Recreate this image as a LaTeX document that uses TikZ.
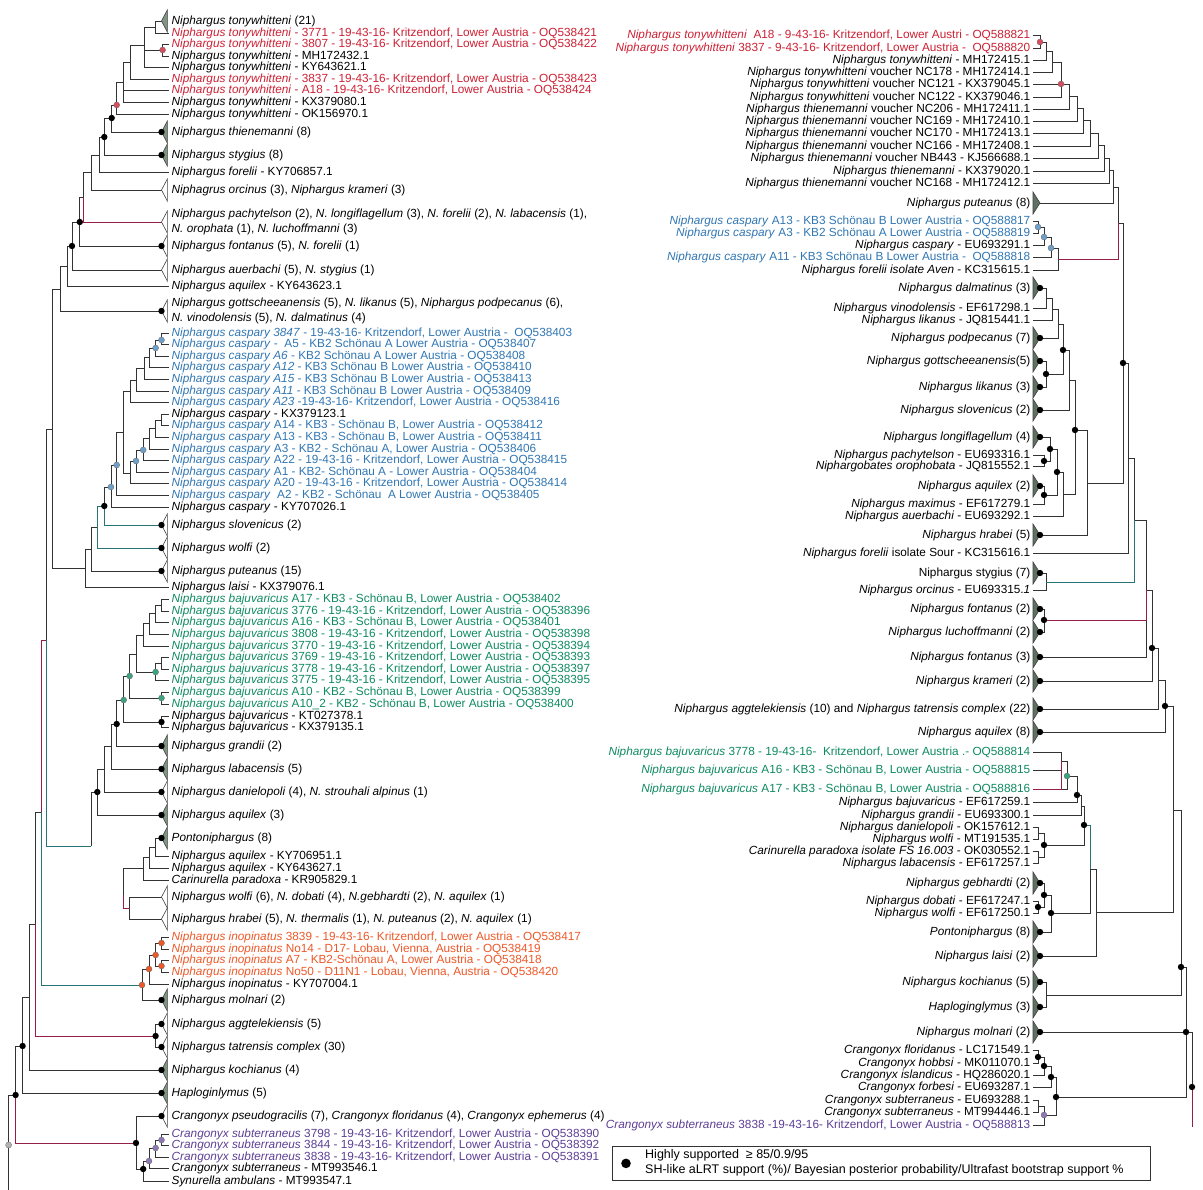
\documentclass[tikz,border=0pt]{standalone}
\usepackage{fontspec}
\setmainfont{Liberation Sans}
\definecolor{tred}{RGB}{204,32,52}
\definecolor{tblue}{RGB}{48,118,178}
\definecolor{tgreen}{RGB}{14,138,96}
\definecolor{torange}{RGB}{236,88,40}
\definecolor{tpurple}{RGB}{92,62,148}
\definecolor{trifill}{RGB}{128,150,132}
\definecolor{brred}{RGB}{150,30,70}
\definecolor{brteal}{RGB}{40,115,115}
\tikzset{
  br/.style={draw=black!80, line width=0.8pt},
  brr/.style={br, draw=brred},
  brt/.style={br, draw=brteal},
  lab/.style={anchor=west, inner sep=2.5pt},
  labr/.style={anchor=east, inner sep=2.5pt},
  trig/.style={draw=black!75, line width=0.6pt, fill=trifill},
  triw/.style={draw=black!75, line width=0.6pt, fill=white},
  trid/.style={draw=black!75, line width=0.6pt, fill=trifill!75!black},
  cdot/.style={draw=black!60, line width=0.3pt},
}
\begin{document}
\begin{tikzpicture}[x=1pt, y=-1pt, font=\fontsize{11.8pt}{13pt}\selectfont]
\useasboundingbox (0,0) rectangle (1203,1190);

% ---------- left tree, leaves
\node[lab] (lton) at (169,21) {\textit{Niphargus tonywhitteni} (21)};
\node[lab, text=tred] (l3771) at (169,33) {\textit{Niphargus tonywhitteni} - 3771 - 19-43-16- Kritzendorf, Lower Austria - OQ538421};
\node[lab, text=tred] (l3807) at (169,44) {\textit{Niphargus tonywhitteni} - 3807 - 19-43-16- Kritzendorf, Lower Austria - OQ538422};
\node[lab] (lMH) at (169,56) {\textit{Niphargus tonywhitteni} - MH172432.1};
\node[lab] (lKY1) at (169,67) {\textit{Niphargus tonywhitteni} - KY643621.1};
\node[lab, text=tred] (l3837) at (169,79) {\textit{Niphargus tonywhitteni} - 3837 - 19-43-16- Kritzendorf, Lower Austria - OQ538423};
\node[lab, text=tred] (lA18) at (169,90) {\textit{Niphargus tonywhitteni} - A18 - 19-43-16- Kritzendorf, Lower Austria - OQ538424};
\node[lab] (lKX1) at (169,102) {\textit{Niphargus tonywhitteni} - KX379080.1};
\node[lab] (lOK) at (169,114) {\textit{Niphargus tonywhitteni} - OK156970.1};
\node[lab] (lthi) at (169,132) {\textit{Niphargus thienemanni} (8)};
\node[lab] (lsty) at (169,155) {\textit{Niphargus stygius} (8)};
\node[lab] (lfor) at (169,172) {\textit{Niphargus forelii} - KY706857.1};
\node[lab] (lorc) at (169,190) {\textit{Niphagrus orcinus} (3), \textit{Niphargus krameri} (3)};
\node[lab, align=left] (lpac) at (169,222) {\textit{Niphargus pachytelson} (2), \textit{N. longiflagellum} (3), \textit{N. forelii} (2), \textit{N. labacensis} (1),\\[2pt] \textit{N. orophata} (1), \textit{N. luchoffmanni} (3)};
\node[lab] (lfon) at (169,246) {\textit{Niphargus fontanus} (5), \textit{N. forelii} (1)};
\node[lab] (laue) at (169,270) {\textit{Niphargus auerbachi} (5), \textit{N. stygius} (1)};
\node[lab] (laqu) at (169,286) {\textit{Niphargus aquilex} - KY643623.1};
\node[lab, align=left] (lgot) at (169,311) {\textit{Niphargus gottscheeanensis} (5), \textit{N. likanus} (5), \textit{Niphargus podpecanus} (6),\\[2pt] \textit{N. vinodolensis} (5), \textit{N. dalmatinus} (4)};
% caspary
\node[lab, text=tblue] (lc3847) at (169,333) {\textit{Niphargus caspary 3847} - 19-43-16- Kritzendorf, Lower Austria - \ OQ538403};
\node[lab, text=tblue] (lcA5) at (169,344) {\textit{Niphargus caspary} - \ A5 - KB2 Schönau A Lower Austria - OQ538407};
\node[lab, text=tblue] (lcA6) at (169,356) {\textit{Niphargus caspary A6} - KB2 Schönau A Lower Austria - OQ538408};
\node[lab, text=tblue] (lcA12) at (169,367) {\textit{Niphargus caspary A12} - KB3 Schönau B Lower Austria - OQ538410};
\node[lab, text=tblue] (lcA15) at (169,379) {\textit{Niphargus caspary A15} - KB3 Schönau B Lower Austria - OQ538413};
\node[lab, text=tblue] (lcA11) at (169,391) {\textit{Niphargus caspary A11} - KB3 Schönau B Lower Austria - OQ538409};
\node[lab, text=tblue] (lcA23) at (169,402) {\textit{Niphargus caspary A23} -19-43-16- Kritzendorf, Lower Austria - OQ538416};
\node[lab] (lcKX) at (169,414) {\textit{Niphargus caspary} - KX379123.1};
\node[lab, text=tblue] (lcA14) at (169,425) {\textit{Niphargus caspary} A14 - KB3 - Schönau B, Lower Austria - OQ538412};
\node[lab, text=tblue] (lcA13) at (169,437) {\textit{Niphargus caspary} A13 - KB3 - Schönau B, Lower Austria - OQ538411};
\node[lab, text=tblue] (lcA3) at (169,449) {\textit{Niphargus caspary} A3 - KB2 - Schönau A, Lower Austria - OQ538406};
\node[lab, text=tblue] (lcA22) at (169,460) {\textit{Niphargus caspary} A22 - 19-43-16 - Kritzendorf, Lower Austria - OQ538415};
\node[lab, text=tblue] (lcA1) at (169,472) {\textit{Niphargus caspary} A1 - KB2- Schönau A - Lower Austria - OQ538404};
\node[lab, text=tblue] (lcA20) at (169,483) {\textit{Niphargus caspary} A20 - 19-43-16 - Kritzendorf, Lower Austria - OQ538414};
\node[lab, text=tblue] (lcA2) at (169,495) {\textit{Niphargus caspary} \ A2 - KB2 - Schönau \ A Lower Austria - OQ538405};
\node[lab] (lcKY) at (169,507) {\textit{Niphargus caspary} - KY707026.1};
\node[lab] (lslo) at (169,525) {\textit{Niphargus slovenicus} (2)};
\node[lab] (lwol) at (169,548) {\textit{Niphargus wolfi} (2)};
\node[lab] (lput) at (169,571) {\textit{Niphargus puteanus} (15)};
\node[lab] (llai) at (169,587) {\textit{Niphargus laisi} - KX379076.1};
% bajuvaricus
\node[lab, text=tgreen] (lbA17) at (169,599) {\textit{Niphargus bajuvaricus} A17 - KB3 - Schönau B, Lower Austria - OQ538402};
\node[lab, text=tgreen] (lb3776) at (169,611) {\textit{Niphargus bajuvaricus} 3776 - 19-43-16 - Kritzendorf, Lower Austria - OQ538396};
\node[lab, text=tgreen] (lbA16) at (169,622) {\textit{Niphargus bajuvaricus} A16 - KB3 - Schönau B, Lower Austria - OQ538401};
\node[lab, text=tgreen] (lb3808) at (169,634) {\textit{Niphargus bajuvaricus} 3808 - 19-43-16 - Kritzendorf, Lower Austria - OQ538398};
\node[lab, text=tgreen] (lb3770) at (169,646) {\textit{Niphargus bajuvaricus} 3770 - 19-43-16 - Kritzendorf, Lower Austria - OQ538394};
\node[lab, text=tgreen] (lb3769) at (169,657) {\textit{Niphargus bajuvaricus} 3769 - 19-43-16 - Kritzendorf, Lower Austria - OQ538393};
\node[lab, text=tgreen] (lb3778) at (169,669) {\textit{Niphargus bajuvaricus} 3778 - 19-43-16 - Kritzendorf, Lower Austria - OQ538397};
\node[lab, text=tgreen] (lb3775) at (169,680) {\textit{Niphargus bajuvaricus} 3775 - 19-43-16 - Kritzendorf, Lower Austria - OQ538395};
\node[lab, text=tgreen] (lbA10) at (169,692) {\textit{Niphargus bajuvaricus} A10 - KB2 - Schönau B, Lower Austria - OQ538399};
\node[lab, text=tgreen] (lbA102) at (169,704) {\textit{Niphargus bajuvaricus} A10\_2 - KB2 - Schönau B, Lower Austria - OQ538400};
\node[lab] (lbKT) at (169,716) {\textit{Niphargus bajuvaricus} - KT027378.1};
\node[lab] (lbKX) at (169,727) {\textit{Niphargus bajuvaricus} - KX379135.1};
\node[lab] (lgra) at (169,746) {\textit{Niphargus grandii} (2)};
\node[lab] (llab) at (169,769) {\textit{Niphargus labacensis} (5)};
\node[lab] (ldan) at (169,792) {\textit{Niphargus danielopoli} (4), \textit{N. strouhali alpinus} (1)};
\node[lab] (laq3) at (169,815) {\textit{Niphargus aquilex} (3)};
\node[lab] (lpon) at (169,838) {\textit{Pontoniphargus} (8)};
\node[lab] (laqK1) at (169,856) {\textit{Niphargus aquilex} - KY706951.1};
\node[lab] (laqK2) at (169,868) {\textit{Niphargus aquilex} - KY643627.1};
\node[lab] (lcar) at (169,880) {\textit{Carinurella paradoxa} - KR905829.1};
\node[lab] (lwo6) at (169,897) {\textit{Niphargus wolfi} (6), \textit{N. dobati} (4), \textit{N.gebhardti} (2), \textit{N. aquilex} (1)};
\node[lab] (lhra) at (169,919) {\textit{Niphargus hrabei} (5), \textit{N. thermalis} (1), \textit{N. puteanus} (2), \textit{N. aquilex} (1)};
% inopinatus
\node[lab, text=torange] (li3839) at (169,937) {\textit{Niphargus inopinatus} 3839 - 19-43-16- Kritzendorf, Lower Austria - OQ538417};
\node[lab, text=torange] (liN14) at (169,949) {\textit{Niphargus inopinatus} No14 - D17- Lobau, Vienna, Austria - OQ538419};
\node[lab, text=torange] (liA7) at (169,960) {\textit{Niphargus inopinatus} A7 - KB2-Schönau A, Lower Austria - OQ538418};
\node[lab, text=torange] (liN50) at (169,972) {\textit{Niphargus inopinatus} No50 - D11N1 - Lobau, Vienna, Austria - OQ538420};
\node[lab] (liKY) at (169,984) {\textit{Niphargus inopinatus} - KY707004.1};
\node[lab] (lmol) at (169,1000) {\textit{Niphargus molnari} (2)};
\node[lab] (lagg) at (169,1024) {\textit{Niphargus aggtelekiensis} (5)};
\node[lab] (ltat) at (169,1047) {\textit{Niphargus tatrensis complex} (30)};
\node[lab] (lkoc) at (169,1070) {\textit{Niphargus kochianus} (4)};
\node[lab] (lhap) at (169,1093) {\textit{Haploginlymus} (5)};
\node[lab] (lcps) at (169,1116) {\textit{Crangonyx pseudogracilis} (7), \textit{Crangonyx floridanus} (4), \textit{Crangonyx ephemerus} (4)};
\node[lab, text=tpurple] (ls3798) at (169,1134) {\textit{Crangonyx subterraneus} 3798 - 19-43-16- Kritzendorf, Lower Austria - OQ538390};
\node[lab, text=tpurple] (ls3844) at (169,1145) {\textit{Crangonyx subterraneus} 3844 - 19-43-16- Kritzendorf, Lower Austria - OQ538392};
\node[lab, text=tpurple] (ls3838) at (169,1157) {\textit{Crangonyx subterraneus} 3838 - 19-43-16- Kritzendorf, Lower Austria - OQ538391};
\node[lab] (lsMT) at (169,1168) {\textit{Crangonyx subterraneus} - MT993546.1};
\node[lab] (lsyn) at (169,1181) {\textit{Synurella ambulans} - MT993547.1};

% left tree, inner nodes
\foreach \n/\x/\y in {ta/155.6/27, tb/162.6/50, tc/144/45, td/130/62, te/123.7/82, tg/116.7/105,
    th/111.7/118, ti/104.3/137, tj/99.2/155, tk/91.4/172, tl/83.7/197, tm/79.8/222, tn/72/246,
    to/67/266, tp/60.3/289, tq/52.5/429, tr/46.7/640,
    ca/161.5/340, cb/155.6/348, cc/149.8/357, cd/144/368, ce/136/380, cf/130/391, cg/161.5/420,
    ch/155.6/428, ci/149.8/438, cj/143.2/450, ck/136/461, cl/130/473, cm/123.7/432, cn/116.7/465,
    co/110.9/487, cp/104.3/506, cq/97.3/527, cr/91.4/549, cs/85.6/568,
    ba/161.5/605, bb/155.6/613, bc/149.8/623, bd/143.2/635, be/161.5/663, bf/155.6/672, bg/136/654,
    bh/161.5/698, bi/129.6/676, bj/161.5/722, bk/123.7/700, bl/116.7/724, bm/110.9/746, bn/104.3/769,
    bo/97.3/792, pa/155.6/847, pb/149.8/857, pc/143.2/868, pd/129.6/908, pe/123.7/895, ds/91.4/846,
    ia/161.5/943, ib/161.5/966, ic/155.6/955, id/149/969, ie/142/985, ts/40.9/812,
    ag/155.6/1036, tt/35/924, tu/29.2/997, tv/22.6/1046,
    sa/161.5/1140, sb/155.6/1148, sc/149/1161, sd/143.2/1169, se/136/1143,
    tw/15.6/1095, root/8.6/1145, rootend/8.6/1190}
  \coordinate (\n) at (\x,\y);
\foreach \n/\y in {lton/21, lthi/132, lsty/155, lorc/190, lpac/222, lfon/246, laue/270, lgot/311,
    lslo/525, lwol/548, lput/571, lgra/746, llab/769, ldan/792, laq3/815, lpon/838, lwo6/897,
    lhra/919, lmol/1000, lagg/1024, ltat/1047, lkoc/1070, lhap/1093, lcps/1116}
  \coordinate (\n-t) at (161.5,\y);

% left tree, branches
\foreach \pn/\cn in {ta/lton-t, ta/l3771, tb/l3807, tb/lMH, tc/ta, tc/tb, tc/lKY1, td/tc, td/l3837,
    te/td, te/lA18, te/lKX1, tg/te, tg/lOK, th/tg, th/lthi-t, ti/th, ti/lsty-t, tj/ti, tj/lfor,
    tk/tj, tk/lorc-t, tl/tk, tm/tl, tm/lfon-t, tn/tm, tn/laue-t, to/tn, to/laqu, tp/to, tp/lgot-t,
    tq/tp, tq/cs, tr/tq,
    ca/lc3847, ca/lcA5, cb/ca, cb/lcA6, cc/cb, cc/lcA12, cd/cc, cd/lcA15, ce/cd, ce/lcA11,
    cf/ce, cf/lcA23, cg/lcKX, cg/lcA14, ch/cg, ch/lcA13, ci/ch, ci/lcA3, cj/ci, cj/lcA22,
    ck/cj, ck/lcA1, cl/ck, cl/lcA20, cm/cf, cm/cl, cn/cm, cn/lcA2, co/cn, co/lcKY, cp/co,
    cr/cq, cr/lput-t, cs/cr, cs/llai,
    ba/lbA17, ba/lb3776, bb/ba, bb/lbA16, bc/bb, bc/lb3808, bd/bc, bd/lb3770, be/lb3769, be/lb3778,
    bf/be, bf/lb3775, bg/bd, bg/bf, bh/lbA10, bh/lbA102, bi/bg, bi/bh, bj/lbKT, bj/lbKX,
    bk/bi, bk/bj, bl/bk, bl/lgra-t, bm/bl, bm/llab-t, bn/bm, bn/ldan-t, bo/bn, bo/laq3-t,
    pa/lpon-t, pa/laqK1, pb/pa, pb/laqK2, pc/pb, pc/lcar, pd/lwo6-t, pd/lhra-t, pe/pc, pe/pd, ds/bo,
    ia/li3839, ia/liN14, ib/liA7, ib/liN50, ic/ia, ic/ib, id/ic, id/liKY, ie/id, ie/lmol-t,
    ag/lagg-t, ag/ltat-t, tt/ts, tu/tt, tu/lkoc-t, tv/tu, tv/lhap-t,
    sa/ls3798, sa/ls3844, sb/sa, sb/ls3838, sc/sb, sc/lsMT, sd/sc, sd/lsyn, se/lcps-t, se/sd,
    tw/tv, root/tw, root/rootend}
  \draw[br] (\pn) |- (\cn);
\foreach \pn/\cn in {tl/lpac-t, tt/ag, tw/se, pe/pd, ts/tr}
  \draw[brr] (\pn) |- (\cn);
\foreach \pn/\cn in {tr/ds, ts/ie, cp/lslo-t, cq/cp, cq/lwol-t}
  \draw[brt] (\pn) |- (\cn);

% left tree, collapsed clades
\foreach \n in {lton, lthi, lsty, lgra, llab, laq3, lpon, lmol, lkoc, lhap}
  \draw[trig] (\n-t) -- ++(5.8,-11) -- ++(0,22) -- cycle;
\foreach \n in {lorc, lpac, lfon, laue, lgot, lslo, lwol, lput, ldan, lwo6, lhra, lagg, ltat, lcps}
  \draw[triw] (\n-t) -- ++(5.8,-11) -- ++(0,22) -- cycle;

% ---------- right tree, leaves
\node[labr, text=tred] (rA18) at (1033,35) {\textit{Niphargus tonywhitteni} \ A18 - 9-43-16- Kritzendorf, Lower Austri - OQ588821};
\node[labr, text=tred] (r3837) at (1033,48) {\textit{Niphargus tonywhitteni} 3837 - 9-43-16- Kritzendorf, Lower Austria - \ OQ588820};
\node[labr] (rMH) at (1033,60) {\textit{Niphargus tonywhitteni} - MH172415.1};
\node[labr] (rN178) at (1033,72) {\textit{Niphargus tonywhitteni} voucher NC178 - MH172414.1};
\node[labr] (rN121) at (1033,84) {\textit{Niphargus tonywhitteni} voucher NC121 - KX379045.1};
\node[labr] (rN122) at (1033,97) {\textit{Niphargus tonywhitteni} voucher NC122 - KX379046.1};
\node[labr] (rN206) at (1033,109) {\textit{Niphargus thienemanni} voucher NC206 - MH172411.1};
\node[labr] (rN169) at (1033,121) {\textit{Niphargus thienemanni} voucher NC169 - MH172410.1};
\node[labr] (rN170) at (1033,133) {\textit{Niphargus thienemanni} voucher NC170 - MH172413.1};
\node[labr] (rN166) at (1033,146) {\textit{Niphargus thienemanni} voucher NC166 - MH172408.1};
\node[labr] (rNB443) at (1033,158) {\textit{Niphargus thienemanni} voucher NB443 - KJ566688.1};
\node[labr] (rKX020) at (1033,171) {\textit{Niphargus thienemanni} - KX379020.1};
\node[labr] (rN168) at (1033,183) {\textit{Niphargus thienemanni} voucher NC168 - MH172412.1};
\node[labr] (rput) at (1033,203) {\textit{Niphargus puteanus} (8)};
\node[labr, text=tblue] (rcA13) at (1033,221) {\textit{Niphargus caspary} A13 - KB3 Schönau B Lower Austria - OQ588817};
\node[labr, text=tblue] (rcA3) at (1033,233) {\textit{Niphargus caspary} A3 - KB2 Schönau A Lower Austria - OQ588819};
\node[labr] (rcEU) at (1033,245) {\textit{Niphargus caspary} - EU693291.1};
\node[labr, text=tblue] (rcA11) at (1033,257) {\textit{Niphargus caspary} A11 - KB3 Schönau B Lower Austria - \ OQ588818};
\node[labr] (rAven) at (1033,270) {\textit{Niphargus forelii isolate Aven} - KC315615.1};
\node[labr] (rdal) at (1033,288) {\textit{Niphargus dalmatinus} (3)};
\node[labr] (rvin) at (1033,308) {\textit{Niphargus vinodolensis} - EF617298.1};
\node[labr] (rlik) at (1033,320) {\textit{Niphargus likanus} - JQ815441.1};
\node[labr] (rpod) at (1033,338) {\textit{Niphargus podpecanus} (7)};
\node[labr] (rgot) at (1033,361) {\textit{Niphargus gottscheeanensis}(5)};
\node[labr] (rli3) at (1033,387) {\textit{Niphargus likanus} (3)};
\node[labr] (rslo) at (1033,410) {\textit{Niphargus slovenicus} (2)};
\node[labr] (rlon) at (1033,437) {\textit{Niphargus longiflagellum} (4)};
\node[labr] (rpac) at (1033,455) {\textit{Niphargus pachytelson} - EU693316.1};
\node[labr] (rorp) at (1033,466) {\textit{Niphargobates orophobata} - JQ815552.1};
\node[labr] (raq2) at (1033,486) {\textit{Niphargus aquilex} (2)};
\node[labr] (rmax) at (1033,504) {\textit{Niphargus maximus} - EF617279.1};
\node[labr] (raue) at (1033,516) {\textit{Niphargus auerbachi} - EU693292.1};
\node[labr] (rhra) at (1033,535) {\textit{Niphargus hrabei} (5)};
\node[labr] (rSour) at (1033,553) {\textit{Niphargus forelii} isolate Sour - KC315616.1};
\node[labr] (rsty) at (1033,573) {Niphargus stygius (7)};
\node[labr] (rorc) at (1033,590) {\textit{Niphargus orcinus} - EU693315.\textit{1}};
\node[labr] (rfo2) at (1033,609) {\textit{Niphargus fontanus} (2)};
\node[labr] (rluc) at (1033,632) {\textit{Niphargus luchoffmanni} (2)};
\node[labr] (rfo3) at (1033,657) {\textit{Niphargus fontanus} (3)};
\node[labr] (rkra) at (1033,681) {\textit{Niphargus krameri} (2)};
\node[labr] (ragg) at (1033,709) {\textit{Niphargus aggtelekiensis} (10) and \textit{Niphargus tatrensis complex} (22)};
\node[labr] (raq8) at (1033,732) {\textit{Niphargus aquilex} (8)};
\node[labr, text=tgreen] (rb3778) at (1033,752) {\textit{Niphargus bajuvaricus} 3778 - 19-43-16- \ Kritzendorf, Lower Austria .- OQ588814};
\node[labr, text=tgreen] (rbA16) at (1033,770) {\textit{Niphargus bajuvaricus} A16 - KB3 - Schönau B, Lower Austria - OQ588815};
\node[labr, text=tgreen] (rbA17) at (1033,789) {\textit{Niphargus bajuvaricus} A17 - KB3 - Schönau B, Lower Austria - OQ588816};
\node[labr] (rbEF) at (1033,802) {\textit{Niphargus bajuvaricus} - EF617259.1};
\node[labr] (rgra) at (1033,815) {\textit{Niphargus grandii} - EU693300.1};
\node[labr] (rdan) at (1033,827) {\textit{Niphargus danielopoli} - OK157612.1};
\node[labr] (rwoM) at (1033,839) {\textit{Niphargus wolfi} - MT191535.1};
\node[labr] (rcar) at (1033,851) {\textit{Carinurella paradoxa isolate FS 16.003} - OK030552.1};
\node[labr] (rlab) at (1033,863) {\textit{Niphargus labacensis} - EF617257.1};
\node[labr] (rgeb) at (1033,883) {\textit{Niphargus gebhardti} (2)};
\node[labr] (rdob) at (1033,901) {\textit{Niphargus dobati} - EF617247.1};
\node[labr] (rwoE) at (1033,913) {\textit{Niphargus wolfi} - EF617250.1};
\node[labr] (rpon) at (1033,932) {\textit{Pontoniphargus} (8)};
\node[labr] (rlai) at (1033,956) {\textit{Niphargus laisi} (2)};
\node[labr] (rkoc) at (1033,982) {\textit{Niphargus kochianus} (5)};
\node[labr] (rhap) at (1033,1007) {\textit{Haploginglymus} (3)};
\node[labr] (rmol) at (1033,1032) {\textit{Niphargus molnari} (2)};
\node[labr] (rcfl) at (1033,1050) {\textit{Crangonyx floridanus} - LC171549.1};
\node[labr] (rcho) at (1033,1063) {\textit{Crangonyx hobbsi} - MK011070.1};
\node[labr] (rcis) at (1033,1075) {\textit{Crangonyx islandicus} - HQ286020.1};
\node[labr] (rcfo) at (1033,1087) {\textit{Crangonyx forbesi} - EU693287.1};
\node[labr] (rcsE) at (1033,1100) {\textit{Crangonyx subterraneus} - EU693288.1};
\node[labr] (rcsM) at (1033,1112) {\textit{Crangonyx subterraneus} - MT994446.1};
\node[labr, text=tpurple] (rcs38) at (1033,1125) {\textit{Crangonyx subterraneus} 3838 -19-43-16- Kritzendorf, Lower Austria - OQ588813};

% right tree, inner nodes
\foreach \n/\x/\y in {qa/1040/42, qb/1046/51, qc/1052/62, qd/1061/84, qe/1069/96, qf/1077/108,
    qg/1083/120, qh/1090/133, qi/1098/145, qj/1104/158, qk/1109/170, ql/1113/187,
    qm/1038/227, qn/1044/237, qo/1051/248, qp/1058/259, qq/1118/223,
    qr/1046/298, qs/1052/309, qt/1058/324, qu/1046/374, qv/1063/350, qw/1069/380,
    qx/1044/461, qy/1050/449, qz/1044/495, qA/1057/472, qB/1063/494, qC/1075/430, qD/1087/483,
    qE/1123/363, qF/1128/458, qG/1046/582, qH/1134/520, qI/1044/620, qJ/1146/590, qK/1152/648,
    qL/1158/680, qM/1165/706, qN/1061/761, qO/1067/776, qP/1077/795, qQ/1081/806,
    qR/1038/833, qS/1038/857, qT/1044/845, qU/1084/825, qV/1038/907, qW/1044/895, qX/1051/913,
    qY/1090/869, qZ/1096/912, pA/1173/810, pB/1046/995, pC/1181/967,
    pD/1038/1057, pE/1044/1066, pF/1051/1077, pG/1038/1106, pH/1044/1115, pI/1056/1097,
    pJ/1186/1032, rroot/1192/1087, rrootend/1192/1127}
  \coordinate (\n) at (\x,\y);
\foreach \n/\y in {rput/203, rdal/288, rpod/338, rgot/361, rli3/387, rslo/410, rlon/437, raq2/486,
    rhra/535, rsty/573, rfo2/609, rluc/632, rfo3/657, rkra/681, ragg/709, raq8/732, rgeb/883,
    rpon/932, rlai/956, rkoc/982, rhap/1007, rmol/1032}
  \coordinate (\n-t) at (1040,\y);

% right tree, branches
\foreach \pn/\cn in {qa/rA18, qa/r3837, qb/qa, qb/rMH, qc/qb, qc/rN178, qd/qc, qd/rN121, qd/rN122,
    qe/qd, qe/rN206, qf/qe, qf/rN169, qg/qf, qg/rN170, qh/qg, qh/rN166, qi/qh, qi/rNB443,
    qj/qi, qj/rKX020, qk/qj, qk/rN168, ql/qk, ql/rput-t,
    qm/rcA13, qm/rcA3, qn/qm, qn/rcEU, qo/qn, qo/rcA11, qp/qo, qp/rAven, qq/ql,
    qr/rdal-t, qr/rvin, qs/qr, qs/rlik, qt/qs, qt/rpod-t, qu/rgot-t, qu/rli3-t, qv/qt, qv/qu,
    qw/qv, qw/rslo-t, qx/rpac, qx/rorp, qy/rlon-t, qy/qx, qz/raq2-t, qz/rmax, qA/qy, qA/qz,
    qB/qA, qB/raue, qC/qw, qC/qB, qD/qC, qD/rhra-t, qE/qq, qE/qD, qF/qE, qF/rSour,
    qG/rsty-t, qG/rorc, qH/qF, qI/rfo2-t, qI/rluc-t, qJ/qH, qJ/rfo3-t,
    qK/qJ, qK/rkra-t, qL/qK, qL/ragg-t, qM/qL, qM/raq8-t,
    qN/rb3778, qN/rbA16, qO/qN, qO/rbA17, qP/qO, qP/rbEF, qQ/qP, qQ/rgra,
    qR/rdan, qR/rwoM, qS/rcar, qS/rlab, qT/qR, qT/qS, qU/qQ, qU/qT,
    qV/rdob, qV/rwoE, qW/rgeb-t, qW/qV, qX/qW, qX/rpon-t, qY/qU, qY/qX, qZ/qY, qZ/rlai-t,
    pA/qM, pA/qZ, pB/rkoc-t, pB/rhap-t, pC/pA, pC/pB,
    pD/rcfl, pD/rcho, pE/pD, pE/rcis, pF/pE, pF/rcfo, pG/rcsE, pG/rcsM, pH/pG, pH/rcs38,
    pI/pF, pI/pH, pJ/pC, pJ/rmol-t, pJ/pI, rroot/pJ}
  \draw[br] (\pn) |- (\cn);
\foreach \pn/\cn in {qq/qp, qJ/qI, rroot/rrootend, qN/rbA17}
  \draw[brr] (\pn) |- (\cn);
\foreach \pn/\cn in {qH/qG, qY/qU}
  \draw[brt] (\pn) |- (\cn);

% right tree, collapsed clades
\draw[trid] (rput-t) -- ++(-7,-11) -- ++(0,22) -- cycle;
\foreach \n in {rdal, rpod, rgot, rli3, rslo, rlon, raq2, rhra, rsty, rfo2, rluc, rfo3, rkra,
    ragg, raq8, rgeb, rpon, rlai, rkoc, rhap, rmol}
  \draw[trid] (\n-t) -- ++(-7,-11) -- ++(0,22) -- cycle;

% support dots
\foreach \n in {th, ti, tm, tn, cp, bj, bl, bo, sd, se, tw, tv, ag,
    lthi-t, lsty-t, lfon-t, lgot-t, lslo-t, lwol-t, lput-t, lgra-t, llab-t, ldan-t, laq3-t,
    lpon-t, lmol-t, lagg-t, ltat-t, lkoc-t, lhap-t, lcps-t,
    qu, qv, qx, qy, qz, qA, qC, qE, qI, qK, qM, qP, qT, qU, qV, qW, qX, pC, pD, pE, pF, pI, pJ, rroot,
    rdal-t, rpod-t, rgot-t, rli3-t, rslo-t, rlon-t, raq2-t, rhra-t, rsty-t, rfo2-t, rluc-t,
    rfo3-t, rkra-t, ragg-t, raq8-t, rgeb-t, rpon-t, rlai-t, rkoc-t, rhap-t, rmol-t}
  \fill[black] (\n) circle (3.2);
\foreach \n in {tb, tg, qa, qd}
  \filldraw[cdot, fill=tred!80] (\n) circle (3);
\foreach \n in {ca, cb, cj, ck, cn, co, qm, qn, qo}
  \filldraw[cdot, fill=tblue!70] (\n) circle (3);
\foreach \n in {bf, bh, bi, bk, qO}
  \filldraw[cdot, fill=tgreen!80] (\n) circle (3);
\foreach \n in {ia, ib, ic, id, ie}
  \filldraw[cdot, fill=torange] (\n) circle (3);
\foreach \n in {sa, sb, sc, pH}
  \filldraw[cdot, fill=tpurple!70] (\n) circle (3);
\filldraw[cdot, fill=gray!60] (root) circle (3);

% legend
\node[draw=black!80, line width=0.8pt, anchor=north west, minimum width=538pt, minimum height=34pt,
  inner sep=0pt] (leg) at (612,1146) {};
\fill[black] ([xshift=14pt]leg.west) circle (4.8);
\node[anchor=west, inner sep=0pt, font=\fontsize{12.5pt}{14pt}\selectfont] (leg1) at (645,1155) {Highly supported \ ≥ 85/0.9/95};
\node[anchor=west, inner sep=0pt, font=\fontsize{12.5pt}{14pt}\selectfont] (leg2) at (645,1170) {SH-like aLRT support (\%)/ Bayesian posterior probability/Ultrafast bootstrap support \%};
\end{tikzpicture}
\end{document}
